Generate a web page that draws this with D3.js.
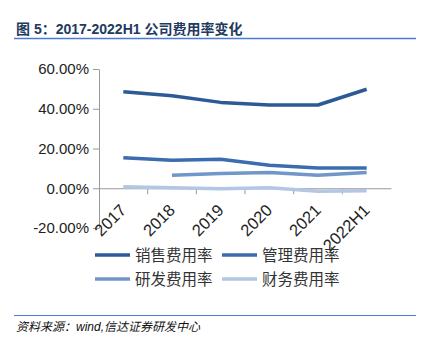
<!DOCTYPE html>
<html>
<head>
<meta charset="utf-8">
<script src="https://cdn.jsdelivr.net/npm/d3@7"></script>
<style>
  body { margin: 0; background: #fff; }
  text { font-family: "Liberation Sans", "Noto Sans CJK SC", sans-serif; }
</style>
</head>
<body>
<svg id="chart" width="430" height="339"></svg>
<script>
var years = ["2017", "2018", "2019", "2020", "2021", "2022H1"];
var seriesNames = ["销售费用率", "管理费用率", "研发费用率", "财务费用率"];
var colors = ["#2d5a96", "#3b6cad", "#7196c9", "#b3c6e3"];
var sales = [48.5, 46.5, 43.2, 41.9, 41.9, 49.8];
var admin = [15.3, 14.1, 14.6, 11.6, 10.2, 10.2];
var rnd = [null, 6.6, 7.4, 7.9, 6.6, 7.9];
var finance = [0.7, 0.2, -0.2, 0.3, -1.5, -1.2];
var yTicks = [-20, 0, 20, 40, 60];

var allSeries = [sales, admin, rnd, finance];
var svg = d3.select("#chart");

// title + rule
svg.append("text")
  .attr("x", 16).attr("y", 34)
  .attr("font-size", 14).attr("font-weight", "bold")
  .attr("fill", "#223a5e")
  .attr("font-family", "'Liberation Sans', 'Noto Sans CJK SC', sans-serif")
  .text("图 5：2017-2022H1 公司费用率变化");
svg.append("line")
  .attr("x1", 14).attr("x2", 416).attr("y1", 38.5).attr("y2", 38.5)
  .attr("stroke", "#4a7bd0").attr("stroke-width", 1.5);

var x = d3.scaleBand().domain(years).range([99, 391]);
var y = d3.scaleLinear().domain([-20, 60]).range([228, 69]);

// y axis
var yAxis = svg.append("g")
  .attr("transform", "translate(99,0)")
  .call(d3.axisLeft(y).tickValues(yTicks).tickSize(6).tickSizeOuter(0)
    .tickFormat(function(d) { return d.toFixed(2) + "%"; }));
yAxis.select(".domain").attr("stroke", "#999");
yAxis.selectAll(".tick line").attr("stroke", "#999");
yAxis.selectAll(".tick text")
  .attr("font-size", 15).attr("fill", "#222").attr("x", -10)
  .attr("font-family", "'Noto Sans', 'DejaVu Sans', sans-serif");

// x axis at zero
var xAxis = svg.append("g")
  .attr("transform", "translate(0," + y(0) + ")")
  .call(d3.axisBottom(x).tickSize(0).tickSizeOuter(0));
xAxis.select(".domain").attr("stroke", "#999");
xAxis.selectAll(".tick text").remove();
// ticks on band edges
svg.selectAll(".xtick").data(years.slice(1))
  .enter().append("line")
  .attr("x1", function(d) { return x(d); })
  .attr("x2", function(d) { return x(d); })
  .attr("y1", y(0)).attr("y2", y(0) + 6)
  .attr("stroke", "#999");
svg.selectAll(".xlab").data(years)
  .enter().append("text")
  .attr("transform", function(d) {
    return "translate(" + (x(d) + x.bandwidth() / 2 + 4) + "," + (y(0) + 23) + ") rotate(-45)";
  })
  .attr("text-anchor", "end")
  .attr("font-size", 16.5).attr("fill", "#222")
  .attr("font-family", "'Noto Sans', 'DejaVu Sans', sans-serif")
  .text(function(d) { return d; });

// lines
var line = d3.line()
  .defined(function(d) { return d != null; })
  .x(function(d, i) { return x(years[i]) + x.bandwidth() / 2; })
  .y(function(d) { return y(d); });

svg.selectAll(".series").data(allSeries.slice().reverse())
  .enter().append("path")
  .attr("fill", "none")
  .attr("stroke", function(d, i) { return colors[3 - i]; })
  .attr("stroke-width", 3.5)
  .attr("stroke-linejoin", "round")
  .attr("d", line);

// legend
var legendPos = [[95, 255], [222, 255], [95, 279], [222, 279]];
var lg = svg.selectAll(".leg").data(seriesNames)
  .enter().append("g")
  .attr("transform", function(d, i) { return "translate(" + legendPos[i][0] + "," + legendPos[i][1] + ")"; });
lg.append("line")
  .attr("x1", 0).attr("x2", 35)
  .attr("stroke", function(d, i) { return colors[i]; })
  .attr("stroke-width", 3.5);
lg.append("text")
  .attr("x", 40).attr("y", 5.5)
  .attr("font-size", 15.5).attr("fill", "#333")
  .attr("font-family", "'Noto Sans CJK SC', sans-serif")
  .text(function(d) { return d; });

// footer
svg.append("line")
  .attr("x1", 14).attr("x2", 416).attr("y1", 315.5).attr("y2", 315.5)
  .attr("stroke", "#4a7bd0").attr("stroke-width", 1.2);
svg.append("text")
  .attr("x", 16).attr("y", 331)
  .attr("font-size", 12).attr("font-style", "italic").attr("fill", "#111")
  .attr("font-family", "'Noto Sans CJK SC', sans-serif")
  .text("资料来源：wind,信达证券研发中心");
</script>
</body>
</html>
